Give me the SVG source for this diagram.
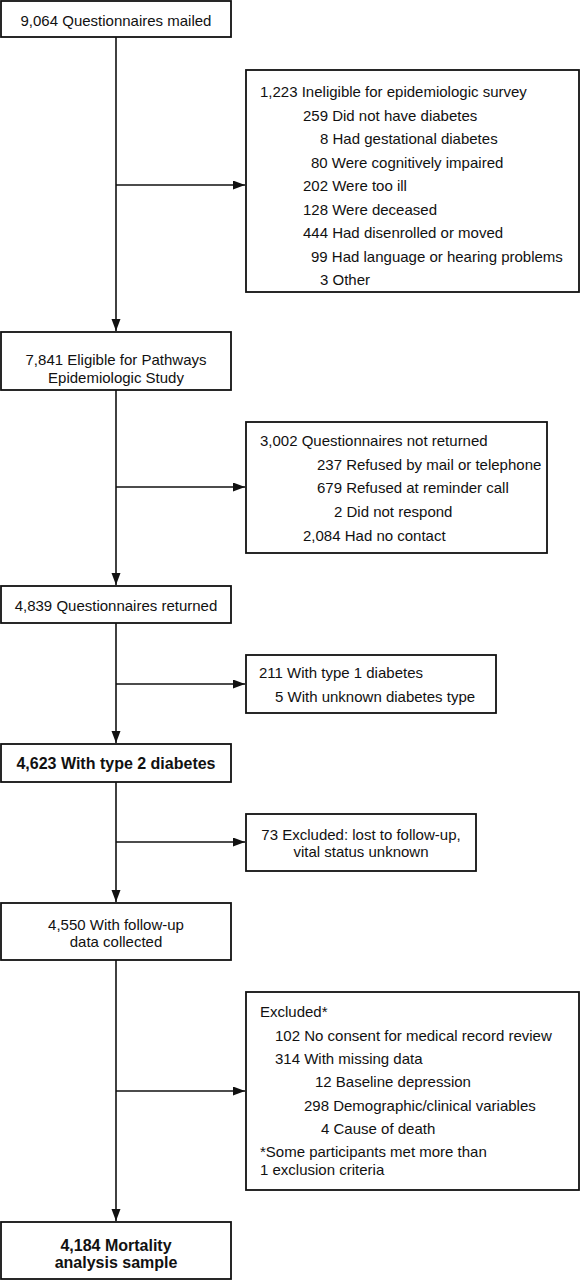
<svg xmlns="http://www.w3.org/2000/svg" width="580" height="1280" viewBox="0 0 580 1280">
<style>
.box{fill:#fff;stroke:#111;stroke-width:1.8}
.t{font-family:"Liberation Sans",Arial,sans-serif;font-size:15px;fill:#111}
.c{text-anchor:middle}
.b{font-weight:bold;font-size:16px}
.ln{stroke:#111;stroke-width:1.6;fill:none;marker-end:url(#ah)}
</style>
<defs>
<marker id="ah" markerUnits="userSpaceOnUse" markerWidth="13" markerHeight="10" refX="12" refY="4.5" orient="auto">
<path d="M0,0 L12,4.5 L0,9 z" fill="#111"/>
</marker>
</defs>
<rect width="580" height="1280" fill="#fff"/>
<g id="connectors">
<line class="ln" x1="116" y1="37" x2="116" y2="331"/>
<line class="ln" x1="116" y1="185" x2="245" y2="185"/>
<line class="ln" x1="116" y1="390" x2="116" y2="585"/>
<line class="ln" x1="116" y1="487" x2="245" y2="487"/>
<line class="ln" x1="116" y1="623" x2="116" y2="743"/>
<line class="ln" x1="116" y1="684" x2="245" y2="684"/>
<line class="ln" x1="116" y1="782" x2="116" y2="902"/>
<line class="ln" x1="116" y1="842" x2="245" y2="842"/>
<line class="ln" x1="116" y1="960" x2="116" y2="1221"/>
<line class="ln" x1="116" y1="1091" x2="245" y2="1091"/>
</g>
<g id="n1">
<rect class="box" x="1" y="1" width="230" height="36"/>
<text class="t c" x="116" y="26">9,064 Questionnaires mailed</text>
</g>
<g id="n2">
<rect class="box" x="246" y="70" width="333" height="222"/>
<text class="t" x="260" y="97">1,223 Ineligible for epidemiologic survey</text>
<text class="t" x="303" y="120.5">259 Did not have diabetes</text>
<text class="t" x="320" y="144">8 Had gestational diabetes</text>
<text class="t" x="311" y="167.5">80 Were cognitively impaired</text>
<text class="t" x="303" y="191">202 Were too ill</text>
<text class="t" x="303" y="214.5">128 Were deceased</text>
<text class="t" x="303" y="238">444 Had disenrolled or moved</text>
<text class="t" x="311" y="261.5">99 Had language or hearing problems</text>
<text class="t" x="320" y="285">3 Other</text>
</g>
<g id="n3">
<rect class="box" x="1" y="332" width="230" height="58"/>
<text class="t c" x="116" y="365">7,841 Eligible for Pathways</text>
<text class="t c" x="116" y="383">Epidemiologic Study</text>
</g>
<g id="n4">
<rect class="box" x="246" y="422" width="301" height="131"/>
<text class="t" x="260" y="446">3,002 Questionnaires not returned</text>
<text class="t" x="317" y="470">237 Refused by mail or telephone</text>
<text class="t" x="317" y="493">679 Refused at reminder call</text>
<text class="t" x="334" y="517">2 Did not respond</text>
<text class="t" x="303" y="541">2,084 Had no contact</text>
</g>
<g id="n5">
<rect class="box" x="1" y="586" width="230" height="37"/>
<text class="t c" x="116" y="611">4,839 Questionnaires returned</text>
</g>
<g id="n6">
<rect class="box" x="246" y="655" width="250" height="58"/>
<text class="t" x="259" y="678">211 With type 1 diabetes</text>
<text class="t" x="275" y="702">5 With unknown diabetes type</text>
</g>
<g id="n7">
<rect class="box" x="1" y="744" width="230" height="38"/>
<text class="t c b" x="116" y="769">4,623 With type 2 diabetes</text>
</g>
<g id="n8">
<rect class="box" x="246" y="814" width="230" height="57"/>
<text class="t c" x="361" y="840">73 Excluded: lost to follow-up,</text>
<text class="t c" x="361" y="857">vital status unknown</text>
</g>
<g id="n9">
<rect class="box" x="1" y="903" width="230" height="57"/>
<text class="t c" x="116" y="930">4,550 With follow-up</text>
<text class="t c" x="116" y="947">data collected</text>
</g>
<g id="n10">
<rect class="box" x="246" y="992" width="333" height="198"/>
<text class="t" x="260" y="1017">Excluded*</text>
<text class="t" x="275" y="1041">102 No consent for medical record review</text>
<text class="t" x="275" y="1064">314 With missing data</text>
<text class="t" x="315" y="1087">12 Baseline depression</text>
<text class="t" x="304" y="1111">298 Demographic/clinical variables</text>
<text class="t" x="321" y="1134">4 Cause of death</text>
<text class="t" x="260" y="1157">*Some participants met more than</text>
<text class="t" x="260" y="1175">1 exclusion criteria</text>
</g>
<g id="n11">
<rect class="box" x="1" y="1222" width="230" height="57"/>
<text class="t c b" x="116" y="1251">4,184 Mortality</text>
<text class="t c b" x="116" y="1268">analysis sample</text>
</g>
</svg>
